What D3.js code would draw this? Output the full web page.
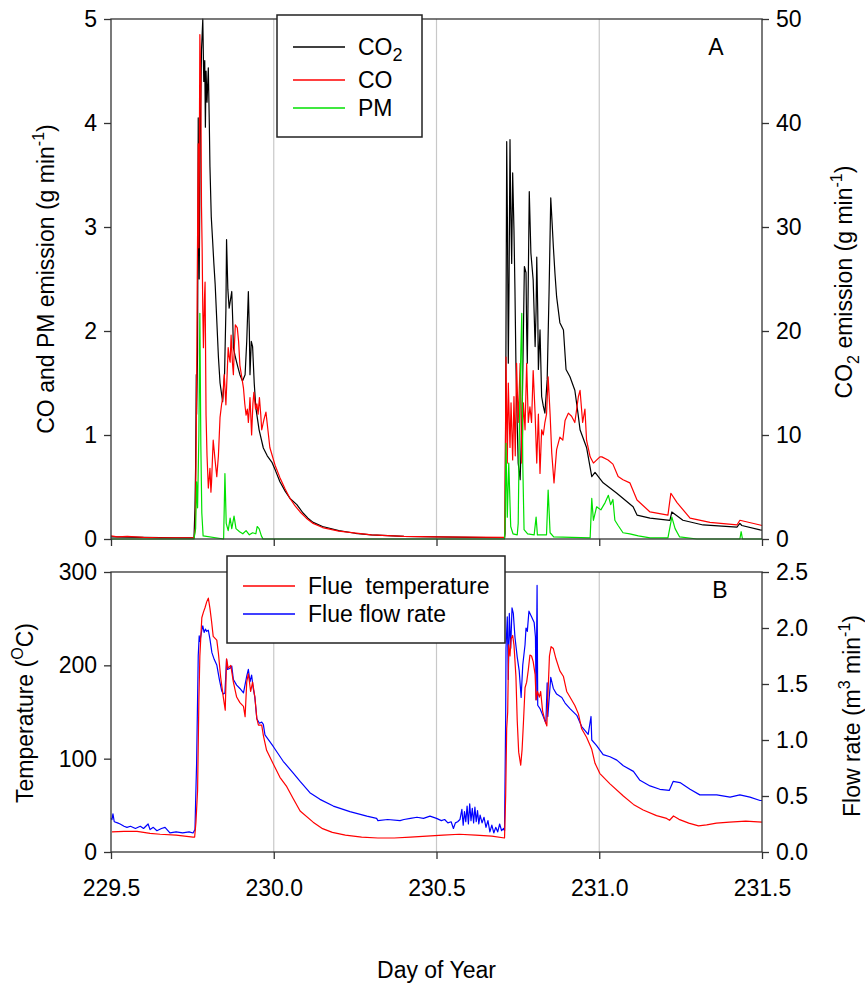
<!DOCTYPE html>
<html>
<head>
<meta charset="utf-8">
<script src="https://cdn.jsdelivr.net/npm/d3@7"></script>
<style>
  body { margin: 0; background: #fff; }
  text { font-family: 'Liberation Sans', Arial, sans-serif; }
</style>
</head>
<body>
<svg id="chart"></svg>
<script>
// ---- data: [day of year, value] ----
const dayTicks = [229.5, 230.0, 230.5, 231.0, 231.5];
const gridDays = [230.0, 230.5, 231.0];
const coPmTicks = [0, 1, 2, 3, 4, 5];
const co2Ticks = [0, 10, 20, 30, 40, 50];
const tempTicks = [0, 100, 200, 300];
const flowTicks = [0, 0.5, 1.0, 1.5, 2.0, 2.5];

// CO2 emission (g/min), right axis of panel A
const co2Data = [
  [229.500,0.2],[229.600,0.15],[229.700,0.12],[229.755,0.1],
  [229.758,3.0],[229.760,7.0],[229.762,15.8],[229.763,12],[229.766,18],[229.768,40.5],[229.771,25],
  [229.774,38],[229.778,47],[229.782,50],[229.785,44],[229.788,46],[229.790,39.6],[229.792,45],
  [229.795,42],[229.799,45.3],[229.802,40],[229.804,35.8],[229.808,31],[229.812,28.8],[229.816,26.5],
  [229.820,24.5],[229.825,21],[229.830,17.5],[229.835,15],[229.843,13.2],[229.849,16],[229.853,22],
  [229.855,28.8],[229.859,24],[229.863,22.2],[229.867,23],[229.871,23.8],[229.874,21],[229.876,18.4],
  [229.882,17.5],[229.890,16.5],[229.896,15.8],[229.904,15.2],[229.912,15.8],[229.917,19],[229.922,23.8],
  [229.925,20],[229.927,15.8],[229.931,19],[229.935,18.5],[229.940,15],[229.945,12.6],[229.955,10.5],
  [229.968,8.75],[229.980,8.0],[229.994,7.4],[230.005,6.6],[230.019,5.5],[230.035,4.6],[230.050,3.9],
  [230.071,3.3],[230.090,2.5],[230.105,2.0],[230.121,1.6],[230.150,1.2],[230.200,0.8],[230.250,0.55],
  [230.300,0.4],[230.400,0.25],[230.500,0.2],[230.600,0.15],[230.709,0.12],
  [230.7105,0.5],[230.7125,12],[230.7135,20.1],[230.7157,38.2],[230.718,30],[230.7206,16.9],[230.723,25],
  [230.7258,38.4],[230.728,32],[230.731,26.5],[230.734,35.2],[230.738,29.7],[230.741,24],[230.744,16.9],
  [230.748,11],[230.751,7.3],[230.757,5.7],[230.760,9],[230.764,13.7],[230.767,20],[230.770,26.2],
  [230.775,25.6],[230.777,20],[230.779,16.9],[230.782,25],[230.785,33.4],[230.790,27.5],[230.797,24.9],
  [230.803,18.5],[230.806,22],[230.808,27.1],[230.811,22],[230.813,16.3],[230.818,20.1],[230.823,13.7],
  [230.828,12.8],[230.833,12.1],[230.840,15.3],[230.846,24],[230.851,32.8],[230.855,30.5],[230.859,28.1],
  [230.864,25.5],[230.869,23.3],[230.879,20.8],[230.890,20.1],[230.898,16.3],[230.910,15.6],[230.925,14.3],
  [230.935,12],[230.941,10.5],[230.961,8.8],[230.977,6.0],[230.987,6.4],[231.012,5.4],[231.054,4.4],
  [231.104,3.1],[231.116,2.3],[231.156,2.0],[231.217,1.8],[231.223,2.6],[231.257,1.8],[231.319,1.35],
  [231.423,1.15],[231.432,1.5],[231.438,1.3],[231.494,0.87],[231.500,0.85]
];

// CO emission (g/min), left axis of panel A
const coData = [
  [229.500,0.03],[229.520,0.02],[229.550,0.025],[229.600,0.015],[229.650,0.01],[229.700,0.01],[229.755,0.01],
  [229.759,0.1],[229.762,1.0],[229.765,2.5],[229.768,3.8],[229.770,2.8],[229.773,4.85],[229.776,4.4],
  [229.778,3.2],[229.780,2.8],[229.782,2.2],[229.784,1.84],[229.787,2.3],[229.789,2.47],[229.792,1.19],
  [229.795,0.8],[229.799,0.49],[229.802,0.6],[229.804,0.68],[229.807,0.45],[229.809,0.55],[229.812,0.8],
  [229.814,0.95],[229.817,0.85],[229.820,0.75],[229.825,0.6],[229.830,0.8],[229.835,1.17],[229.840,1.3],
  [229.843,1.35],[229.848,1.58],[229.853,1.29],[229.857,1.6],[229.860,1.84],[229.863,1.75],[229.866,1.7],
  [229.869,1.96],[229.873,1.7],[229.876,1.58],[229.879,1.85],[229.882,2.06],[229.888,2.03],[229.892,1.9],
  [229.896,1.67],[229.902,1.55],[229.907,1.45],[229.911,1.3],[229.915,1.19],[229.919,1.25],[229.922,1.12],
  [229.925,1.25],[229.927,1.36],[229.930,1.15],[229.932,1.0],[229.936,1.3],[229.939,1.41],[229.944,1.25],
  [229.948,1.3],[229.952,1.2],[229.956,1.36],[229.960,1.2],[229.963,1.05],[229.970,1.15],[229.976,1.22],
  [229.982,1.05],[229.988,0.88],[230.004,0.71],[230.019,0.59],[230.035,0.48],[230.050,0.39],[230.065,0.32],
  [230.081,0.26],[230.100,0.2],[230.121,0.15],[230.150,0.11],[230.200,0.075],[230.300,0.04],[230.400,0.025],
  [230.500,0.02],[230.600,0.018],[230.709,0.015],
  [230.7105,0.3],[230.7135,1.75],[230.7175,0.73],[230.7206,1.5],[230.7258,0.88],[230.729,1.31],[230.734,0.76],
  [230.738,1.37],[230.742,0.8],[230.746,1.69],[230.751,1.12],[230.757,1.69],[230.762,0.73],[230.767,1.31],
  [230.772,1.05],[230.777,1.69],[230.782,1.12],[230.787,1.27],[230.792,1.12],[230.797,1.62],[230.803,1.2],
  [230.808,0.73],[230.813,1.2],[230.818,0.63],[230.823,1.05],[230.828,1.0],[230.833,1.12],[230.838,1.2],
  [230.843,1.56],[230.849,1.2],[230.854,0.83],[230.861,0.54],[230.869,0.86],[230.879,0.98],[230.888,0.95],
  [230.895,1.14],[230.905,1.21],[230.915,1.18],[230.925,1.12],[230.936,1.37],[230.941,1.43],[230.949,1.12],
  [230.956,1.25],[230.961,0.95],[230.972,0.79],[230.982,0.73],[231.002,0.79],[231.008,0.79],[231.027,0.76],
  [231.042,0.72],[231.058,0.6],[231.073,0.57],[231.094,0.54],[231.116,0.375],[231.156,0.26],[231.211,0.23],
  [231.220,0.44],[231.239,0.35],[231.279,0.2],[231.340,0.16],[231.423,0.135],[231.432,0.18],[231.494,0.135],
  [231.500,0.13]
];

// PM emission (g/min), left axis of panel A
const pmData = [
  [229.500,0],[229.755,0],[229.760,0.1],[229.763,0.55],[229.766,0.3],[229.770,1.0],[229.773,2.17],
  [229.776,0.9],[229.779,0.25],[229.783,0.03],[229.846,0.0],[229.850,0.63],[229.854,0.15],[229.860,0.08],
  [229.866,0.2],[229.871,0.1],[229.878,0.22],[229.884,0.1],[229.895,0.07],[229.905,0.05],[229.915,0.08],
  [229.925,0.04],[229.935,0.06],[229.945,0.05],[229.949,0.12],[229.955,0.1],[229.962,0.03],[229.967,0.0],
  [230.709,0],[230.7105,0.1],[230.7135,0.92],[230.7175,0.21],[230.722,0.73],[230.728,0.12],[230.735,0.05],
  [230.748,0.04],[230.751,0.15],[230.755,1.14],[230.759,1.8],[230.762,2.17],[230.765,0.73],[230.769,0.09],
  [230.780,0.05],[230.800,0.04],[230.806,0.21],[230.810,0.04],[230.838,0.04],[230.843,0.47],[230.849,0.06],
  [230.860,0.02],[230.972,0.01],[230.977,0.39],[230.982,0.18],[230.992,0.31],[231.005,0.28],[231.018,0.35],
  [231.028,0.42],[231.035,0.33],[231.042,0.38],[231.048,0.18],[231.058,0.13],[231.073,0.06],[231.094,0.05],
  [231.120,0.03],[231.156,0.01],[231.211,0.01],[231.223,0.21],[231.233,0.1],[231.247,0.02],[231.300,0],
  [231.432,0],[231.436,0.07],[231.440,0],[231.500,0]
];

// Flue temperature (deg C), left axis of panel B
const tempData = [
  [229.503,21.5],[229.540,22],[229.580,22],[229.620,20],[229.651,19],[229.700,18],[229.752,16],
  [229.757,16],[229.761,32],[229.766,66],[229.770,163],[229.773,210],[229.779,251],[229.784,257],
  [229.789,262],[229.794,268],[229.799,272],[229.804,261],[229.809,247],[229.814,231],[229.825,227],
  [229.830,213],[229.837,187],[229.845,166],[229.851,152],[229.855,207],[229.860,197],[229.868,200],
  [229.876,182],[229.886,166],[229.896,160],[229.907,156],[229.912,145],[229.917,182],[229.922,191],
  [229.929,172],[229.935,182],[229.942,166],[229.948,143],[229.953,136],[229.963,136],[229.968,125],
  [229.978,109],[229.999,94],[230.019,80],[230.040,70],[230.060,57],[230.081,44],[230.121,32],
  [230.150,25],[230.180,21],[230.220,18],[230.270,16],[230.320,15],[230.370,15],[230.420,16],
  [230.470,17],[230.520,18],[230.570,19],[230.620,18],[230.670,17],[230.709,15],
  [230.7125,60],[230.7156,132],[230.7187,150],[230.7218,222],[230.7258,210],[230.7289,228],[230.734,232],
  [230.738,222],[230.744,188],[230.748,141],[230.7525,107],[230.7587,93],[230.763,110],[230.767,138],
  [230.772,176],[230.777,182],[230.782,195],[230.787,211],[230.792,210],[230.797,204],[230.803,190],
  [230.806,163],[230.810,172],[230.816,166],[230.820,172],[230.826,151],[230.833,141],[230.839,135],
  [230.842,165],[230.847,210],[230.852,220],[230.859,218],[230.867,207],[230.879,194],[230.890,188],
  [230.900,172],[230.910,166],[230.925,157],[230.936,148],[230.946,132],[230.961,123],[230.977,110],
  [230.987,95],[231.002,84],[231.033,73],[231.074,60],[231.105,51],[231.135,45],[231.176,39],
  [231.207,36],[231.216,34],[231.228,38.6],[231.245,35],[231.275,31],[231.305,28],[231.330,29],
  [231.360,31],[231.400,32],[231.450,33],[231.500,32]
];

// Flue flow rate (m3/min), right axis of panel B
const flowData = [
  [229.500,0.30],[229.503,0.29],[229.506,0.34],[229.510,0.27],[229.520,0.26],[229.528,0.25],[229.540,0.23],
  [229.549,0.22],[229.560,0.23],[229.575,0.21],[229.590,0.23],[229.600,0.21],[229.614,0.25],[229.620,0.20],
  [229.630,0.22],[229.641,0.19],[229.655,0.21],[229.666,0.22],[229.681,0.17],[229.700,0.18],[229.720,0.17],
  [229.740,0.18],[229.752,0.17],[229.758,0.20],
  [229.760,0.45],[229.763,0.79],[229.768,1.75],[229.771,1.93],[229.773,1.88],[229.779,1.98],[229.782,2.02],
  [229.786,1.96],[229.790,1.99],[229.794,1.97],[229.799,1.98],[229.804,1.90],[229.810,1.78],[229.817,1.72],
  [229.825,1.67],[229.833,1.54],[229.840,1.44],[229.845,1.41],[229.850,1.42],[229.855,1.72],[229.858,1.63],
  [229.866,1.64],[229.871,1.66],[229.876,1.54],[229.886,1.49],[229.896,1.46],[229.907,1.42],[229.917,1.57],
  [229.922,1.63],[229.927,1.52],[229.932,1.58],[229.937,1.46],[229.942,1.38],[229.948,1.19],[229.956,1.15],
  [229.963,1.16],[229.968,1.14],[229.973,1.045],[229.999,0.94],[230.029,0.81],[230.060,0.705],[230.081,0.63],
  [230.111,0.53],[230.142,0.47],[230.183,0.41],[230.234,0.36],[230.286,0.32],[230.316,0.30],[230.320,0.28],
  [230.350,0.29],[230.388,0.28],[230.400,0.29],[230.420,0.30],[230.440,0.31],[230.460,0.30],[230.480,0.32],
  [230.500,0.30],[230.515,0.28],[230.525,0.29],[230.535,0.26],[230.545,0.27],[230.552,0.21],[230.558,0.26],
  [230.565,0.27],[230.572,0.29],[230.578,0.38],[230.582,0.24],[230.586,0.36],[230.590,0.27],[230.594,0.41],
  [230.598,0.25],[230.602,0.43],[230.606,0.28],[230.610,0.39],[230.614,0.26],[230.618,0.40],[230.622,0.27],
  [230.626,0.37],[230.630,0.25],[230.634,0.33],[230.640,0.26],[230.646,0.31],[230.652,0.22],[230.658,0.28],
  [230.664,0.18],[230.670,0.24],[230.676,0.17],[230.682,0.22],[230.688,0.18],[230.694,0.25],[230.700,0.19],
  [230.706,0.21],[230.709,0.19],
  [230.7125,1.2],[230.7135,1.82],[230.7175,2.10],[230.7206,1.54],[230.7237,2.13],[230.728,1.82],[230.732,2.18],
  [230.736,2.13],[230.741,1.92],[230.748,1.74],[230.754,1.62],[230.760,1.38],[230.765,1.67],[230.772,1.85],
  [230.775,2.0],[230.779,1.97],[230.784,2.15],[230.792,2.10],[230.800,2.05],[230.804,1.92],[230.806,1.36],
  [230.809,2.38],[230.811,1.31],[230.818,1.28],[230.828,1.21],[230.836,1.15],[230.840,1.51],[230.842,1.21],
  [230.851,1.56],[230.859,1.46],[230.869,1.41],[230.885,1.38],[230.895,1.33],[230.910,1.28],[230.931,1.22],
  [230.946,1.12],[230.966,1.05],[230.9747,1.21],[230.977,1.0],[230.992,0.95],[231.012,0.87],[231.033,0.85],
  [231.054,0.82],[231.074,0.77],[231.105,0.72],[231.125,0.64],[231.156,0.59],[231.186,0.56],[231.215,0.55],
  [231.227,0.63],[231.248,0.62],[231.279,0.56],[231.309,0.51],[231.330,0.51],[231.361,0.51],[231.402,0.49],
  [231.432,0.51],[231.463,0.49],[231.494,0.46],[231.500,0.46]
];

// ---- layout ----
const width = 865;
const height = 983;
const left = 111, right = 762;
const panelA = { top: 19, bottom: 539 };
const panelB = { top: 572, bottom: 852 };
const fontSize = 23;
const subSize = 16;

const svg = d3.select("#chart")
  .attr("width", width)
  .attr("height", height);

// Scales
const xScale = d3.scaleLinear().domain([229.5, 231.5]).range([left, right]);
const yCoPm = d3.scaleLinear().domain([0, 5]).range([panelA.bottom, panelA.top]);
const yCo2 = d3.scaleLinear().domain([0, 50]).range([panelA.bottom, panelA.top]);
const yTemp = d3.scaleLinear().domain([0, 300]).range([panelB.bottom, panelB.top]);
const yFlow = d3.scaleLinear().domain([0, 2.5]).range([panelB.bottom, panelB.top]);

// Vertical grid lines in both panels
[panelA, panelB].forEach(p => {
  svg.append("g")
    .selectAll("line")
    .data(gridDays)
    .join("line")
    .attr("x1", d => xScale(d))
    .attr("x2", d => xScale(d))
    .attr("y1", p.top)
    .attr("y2", p.bottom)
    .attr("stroke", "#c8c8c8")
    .attr("stroke-width", 1.2);
});

// Line generator helper
function drawLine(data, yScale, color) {
  const line = d3.line()
    .x(d => xScale(d[0]))
    .y(d => yScale(d[1]));
  svg.append("path")
    .datum(data)
    .attr("fill", "none")
    .attr("stroke", color)
    .attr("stroke-width", 1.2)
    .attr("stroke-linejoin", "round")
    .attr("d", line);
}

drawLine(co2Data, yCo2, "#000000");
drawLine(coData, yCoPm, "#ff0000");
drawLine(pmData, yCoPm, "#00e000");

drawLine(flowData, yFlow, "#0000ff");
drawLine(tempData, yTemp, "#ff0000");

// Panel frames
[panelA, panelB].forEach(p => {
  svg.append("rect")
    .attr("x", left)
    .attr("y", p.top)
    .attr("width", right - left)
    .attr("height", p.bottom - p.top)
    .attr("fill", "none")
    .attr("stroke", "#333")
    .attr("stroke-width", 1.3);
});

// Axes
function styleAxis(g) {
  g.select(".domain").remove();
  g.selectAll(".tick line").attr("stroke", "#333").attr("stroke-width", 1.3);
  g.selectAll(".tick text")
    .attr("fill", "#000")
    .style("font-size", fontSize + "px")
    .style("font-family", "'Liberation Sans', Arial, sans-serif");
}

svg.append("g")
  .attr("transform", `translate(${left},0)`)
  .call(d3.axisLeft(yCoPm).tickValues(coPmTicks).tickFormat(d3.format("d")).tickSize(7).tickPadding(7))
  .call(styleAxis);

svg.append("g")
  .attr("transform", `translate(${right},0)`)
  .call(d3.axisRight(yCo2).tickValues(co2Ticks).tickFormat(d3.format("d")).tickSize(7).tickPadding(7))
  .call(styleAxis);

svg.append("g")
  .attr("transform", `translate(0,${panelA.bottom})`)
  .call(d3.axisBottom(xScale).tickValues(dayTicks).tickFormat("").tickSize(7))
  .call(styleAxis);

svg.append("g")
  .attr("transform", `translate(${left},0)`)
  .call(d3.axisLeft(yTemp).tickValues(tempTicks).tickFormat(d3.format("d")).tickSize(7).tickPadding(7))
  .call(styleAxis);

svg.append("g")
  .attr("transform", `translate(${right},0)`)
  .call(d3.axisRight(yFlow).tickValues(flowTicks).tickFormat(d3.format(".1f")).tickSize(7).tickPadding(7))
  .call(styleAxis);

svg.append("g")
  .attr("transform", `translate(0,${panelB.bottom})`)
  .call(d3.axisBottom(xScale).tickValues(dayTicks).tickFormat(d3.format(".1f")).tickSize(7).tickPadding(21))
  .call(styleAxis);

// Axis titles (rotated), with super/subscripts
function rotatedTitle(x, y, parts) {
  const t = svg.append("text")
    .attr("transform", `translate(${x},${y}) rotate(-90)`)
    .attr("text-anchor", "middle")
    .style("font-size", fontSize + "px");
  parts.forEach(p => {
    const s = t.append("tspan").text(p.text);
    if (p.dy) s.attr("dy", p.dy);
    if (p.size) s.style("font-size", p.size + "px");
  });
  return t;
}

rotatedTitle(54, 279, [
  { text: "CO and PM emission (g min" },
  { text: "-1", dy: -10, size: subSize },
  { text: ")", dy: 10 }
]);

rotatedTitle(852, 282, [
  { text: "CO" },
  { text: "2", dy: 7, size: subSize },
  { text: " emission (g min", dy: -7 },
  { text: "-1", dy: -10, size: subSize },
  { text: ")", dy: 10 }
]);

rotatedTitle(33, 713, [
  { text: "Temperature (" },
  { text: "O", dy: -10, size: subSize },
  { text: "C)", dy: 10 }
]);

rotatedTitle(860, 716, [
  { text: "Flow rate (m" },
  { text: "3", dy: -10, size: subSize },
  { text: " min", dy: 10 },
  { text: "-1", dy: -10, size: subSize },
  { text: ")", dy: 10 }
]);

svg.append("text")
  .attr("x", (left + right) / 2)
  .attr("y", 978)
  .attr("text-anchor", "middle")
  .style("font-size", fontSize + "px")
  .text("Day of Year");

// Panel letters
svg.append("text").attr("x", 716).attr("y", 55).attr("text-anchor", "middle")
  .style("font-size", fontSize + "px").text("A");
svg.append("text").attr("x", 720).attr("y", 598).attr("text-anchor", "middle")
  .style("font-size", fontSize + "px").text("B");

// Legends
function legend(box, items) {
  svg.append("rect")
    .attr("x", box.x).attr("y", box.y)
    .attr("width", box.w).attr("height", box.h)
    .attr("fill", "#fff")
    .attr("stroke", "#222")
    .attr("stroke-width", 1.5);
  items.forEach(it => {
    svg.append("line")
      .attr("x1", box.x + 16).attr("x2", box.x + 68)
      .attr("y1", it.y).attr("y2", it.y)
      .attr("stroke", it.color)
      .attr("stroke-width", 1.5);
    const t = svg.append("text")
      .attr("x", box.x + 81)
      .attr("y", it.y + 8)
      .style("font-size", fontSize + "px")
      .style("white-space", "pre");
    t.append("tspan").text(it.label);
    if (it.sub) {
      t.append("tspan").attr("dy", 6).style("font-size", "18px").text(it.sub);
    }
  });
}

legend({ x: 277, y: 15, w: 145, h: 122 }, [
  { y: 47, color: "#000000", label: "CO", sub: "2" },
  { y: 80, color: "#ff0000", label: "CO" },
  { y: 108, color: "#00e000", label: "PM" }
]);

legend({ x: 227, y: 556, w: 278, h: 87 }, [
  { y: 586, color: "#ff0000", label: "Flue  temperature" },
  { y: 614, color: "#0000ff", label: "Flue flow rate" }
]);
</script>
</body>
</html>
